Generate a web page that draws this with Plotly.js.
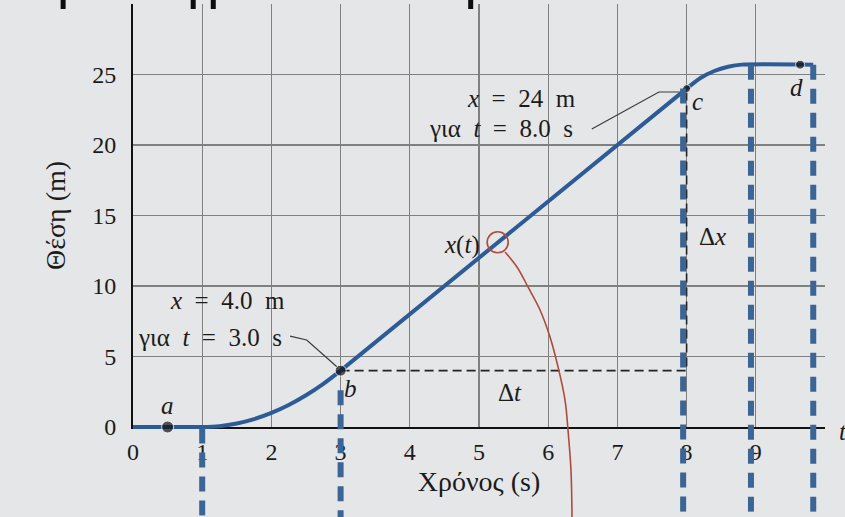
<!DOCTYPE html>
<html>
<head>
<meta charset="utf-8">
<script src="https://cdn.plot.ly/plotly-3.0.1.min.js"></script>
<style>
  html, body { margin: 0; padding: 0; background: #e5e6e8; }
  #chart { width: 845px; height: 517px; }
</style>
</head>
<body>
<div id="chart"></div>
<script>
// Position of the car against time (s → m)
const timeS     = [0, 1, 1.25, 1.5, 1.75, 2, 2.25, 2.5, 2.75, 3, 8, 8.2, 8.4, 8.6, 8.8, 9.83];
const positionM = [0, 0, 0.06, 0.25, 0.56, 1.0, 1.56, 2.25, 3.06, 4, 24, 24.75, 25.25, 25.55, 25.7, 25.7];

// Labelled instants a, b, c, d
const pointNames = ['a', 'b', 'c', 'd'];
const pointTimeS = [0.5, 3, 8, 9.64];
const pointPosM  = [0, 4, 24, 25.7];

// Axis ticks
const xTickVals = [0, 1, 2, 3, 4, 5, 6, 7, 8, 9, 10];
const xTickText = ['0', '1', '2', '3', '4', '5', '6', '7', '8', '9', ''];
const yTickVals = [0, 5, 10, 15, 20, 25, 30];
const yTickText = ['0', '5', '10', '15', '20', '25', ''];

// Circled point on x(t) and the curved pointer leaving it
const circleT = [5.27];
const circleX = [13.1];
const pointerT = [5.376, 5.549, 5.708, 5.882, 6.026, 6.142, 6.243, 6.286, 6.329, 6.344];
const pointerX = [12.41, 11.35, 9.93, 8.30, 6.38, 4.26, 1.91, -0.21, -3.05, -6.38];

// Δt / Δx construction between b and c
const deltaT = [3, 8, 8];
const deltaX = [4, 4, 24];

// Leader lines from the callouts to b and c
const leaderBT = [2.27, 2.51, 2.95];
const leaderBX = [6.45, 6.17, 4.26];
const leaderCT = [6.63, 7.60, 7.90];
const leaderCX = [21.13, 23.76, 23.76];

// Heavy dashed verticals dropped from the curve, and short strokes along the top edge
const guideT    = [1, 3, 7.95, 8.93, 9.83];
const guideTopX = [-0.1, 2.6, 24, 25.7, 25.7];
const strokeT   = [-1.01, 0.87, 1.16, 4.88];

// ---- frame geometry (pixels) ----
const W = 845, H = 517;
const frame = { left: 133, right: 825, top: 4, bottom: 427 };
const xMax = 10, yMax = 30;
const sx = (frame.right - frame.left) / xMax;
const sy = (frame.bottom - frame.top) / yMax;
// full-figure axes sharing the same scale as the main axes
const x2Range = [-frame.left / sx, xMax + (W - frame.right) / sx];
const y2Range = [-(H - frame.bottom) / sy, yMax + frame.top / sy];

const SERIF = 'Liberation Serif, Times New Roman, serif';
const INK = '#1b1b1b';

function columns(ts, tops, bottom) {
  const x = [], y = [];
  ts.forEach((t, i) => { x.push(t, t, null); y.push(tops[i], bottom, null); });
  return { x, y };
}
const guides = columns(guideT, guideTopX, y2Range[0]);
const strokes = columns(strokeT, strokeT.map(() => y2Range[1]), y2Range[1] - 9 / sy);

const over = { xaxis: 'x2', yaxis: 'y2', hoverinfo: 'skip', showlegend: false };
const main = { xaxis: 'x', yaxis: 'y', hoverinfo: 'skip', showlegend: false };

const traces = [
  Object.assign({ type: 'scatter', mode: 'lines', x: deltaT, y: deltaX,
    line: { color: '#222', width: 1.6, dash: '9px,5px' } }, main),
  Object.assign({ type: 'scatter', mode: 'lines', x: leaderBT, y: leaderBX,
    line: { color: '#3a3a3a', width: 1.2 } }, over),
  Object.assign({ type: 'scatter', mode: 'lines', x: leaderCT, y: leaderCX,
    line: { color: '#3a3a3a', width: 1.2 } }, over),
  Object.assign({ type: 'scatter', mode: 'lines', x: timeS, y: positionM,
    line: { color: '#2d5b98', width: 4, shape: 'spline', smoothing: 0.6 } }, over),
  Object.assign({ type: 'scatter', mode: 'markers', x: pointTimeS, y: pointPosM,
    marker: { color: '#111', size: [12, 11, 8, 9] } }, over),
  Object.assign({ type: 'scatter', mode: 'lines', x: pointerT, y: pointerX,
    line: { color: '#b04a3c', width: 1.6, shape: 'spline', smoothing: 1 } }, over),
  Object.assign({ type: 'scatter', mode: 'markers', x: circleT, y: circleX,
    marker: { symbol: 'circle-open', size: 21, color: '#b04a3c', line: { width: 1.6 } } }, over),
  Object.assign({ type: 'scatter', mode: 'lines', x: guides.x, y: guides.y,
    line: { color: '#3b6595', width: 6, dash: '15px,9px' } }, over),
  Object.assign({ type: 'scatter', mode: 'lines', x: strokes.x, y: strokes.y,
    line: { color: '#0d0d0d', width: 5 } }, over)
];

function label(text, t, x, opts) {
  return Object.assign({ xref: 'x2', yref: 'y2', x: t, y: x, text: text, showarrow: false,
    font: { family: SERIF, size: 25, color: INK } }, opts || {});
}

const annotations = [
  label('<i>x</i>&nbsp;&nbsp;=&nbsp;&nbsp;24&nbsp;&nbsp;m', 5.62, 23.33),
  label('για&nbsp;&nbsp;<i>t</i>&nbsp;&nbsp;=&nbsp;&nbsp;8.0&nbsp;&nbsp;s', 5.32, 21.2),
  label('<i>x</i>&nbsp;&nbsp;=&nbsp;&nbsp;4.0&nbsp;&nbsp;m', 1.37, 9.0),
  label('για&nbsp;&nbsp;<i>t</i>&nbsp;&nbsp;=&nbsp;&nbsp;3.0&nbsp;&nbsp;s', 1.11, 6.38),
  label('<i>x</i>(<i>t</i>)', 4.75, 12.9),
  label('Δ<i>x</i>', 8.37, 13.5),
  label('Δ<i>t</i>', 5.45, 2.48),
  label('<i>t</i>', 10.26, -0.35),
  label('<i>' + pointNames[0] + '</i>', pointTimeS[0], pointPosM[0], { yshift: 22 }),
  label('<i>' + pointNames[1] + '</i>', pointTimeS[1], pointPosM[1], { xshift: 10, yshift: -18 }),
  label('<i>' + pointNames[2] + '</i>', pointTimeS[2], pointPosM[2], { xshift: 11, yshift: -13 }),
  label('<i>' + pointNames[3] + '</i>', pointTimeS[3], pointPosM[3], { xshift: -4, yshift: -23 })
];

const axisBase = {
  showline: true, linecolor: '#111', linewidth: 2,
  showgrid: true, gridcolor: '#808080', gridwidth: 1.2,
  zeroline: false, ticks: '', tickmode: 'array', fixedrange: true,
  tickfont: { family: SERIF, size: 24, color: INK }
};

const layout = {
  width: W, height: H, autosize: false,
  margin: { l: 0, r: 0, t: 0, b: 0, pad: 0 },
  paper_bgcolor: '#e5e6e8', plot_bgcolor: 'rgba(0,0,0,0)',
  xaxis: Object.assign({}, axisBase, {
    domain: [frame.left / W, frame.right / W], range: [0, xMax], anchor: 'y',
    tickvals: xTickVals, ticktext: xTickText, ticklabelstandoff: 2,
    title: { text: 'Χρόνος (s)', font: { family: SERIF, size: 28, color: INK }, standoff: 8 }
  }),
  yaxis: Object.assign({}, axisBase, {
    domain: [(H - frame.bottom) / H, (H - frame.top) / H], range: [0, yMax], anchor: 'x',
    tickvals: yTickVals, ticktext: yTickText, ticklabelstandoff: 10,
    title: { text: 'Θέση (m)', font: { family: SERIF, size: 28, color: INK }, standoff: 18 }
  }),
  xaxis2: { domain: [0, 1], range: x2Range, anchor: 'y2', visible: false, fixedrange: true },
  yaxis2: { domain: [0, 1], range: y2Range, anchor: 'x2', visible: false, fixedrange: true },
  annotations: annotations
};

Plotly.newPlot('chart', traces, layout, { displayModeBar: false, staticPlot: true });
</script>
</body>
</html>
